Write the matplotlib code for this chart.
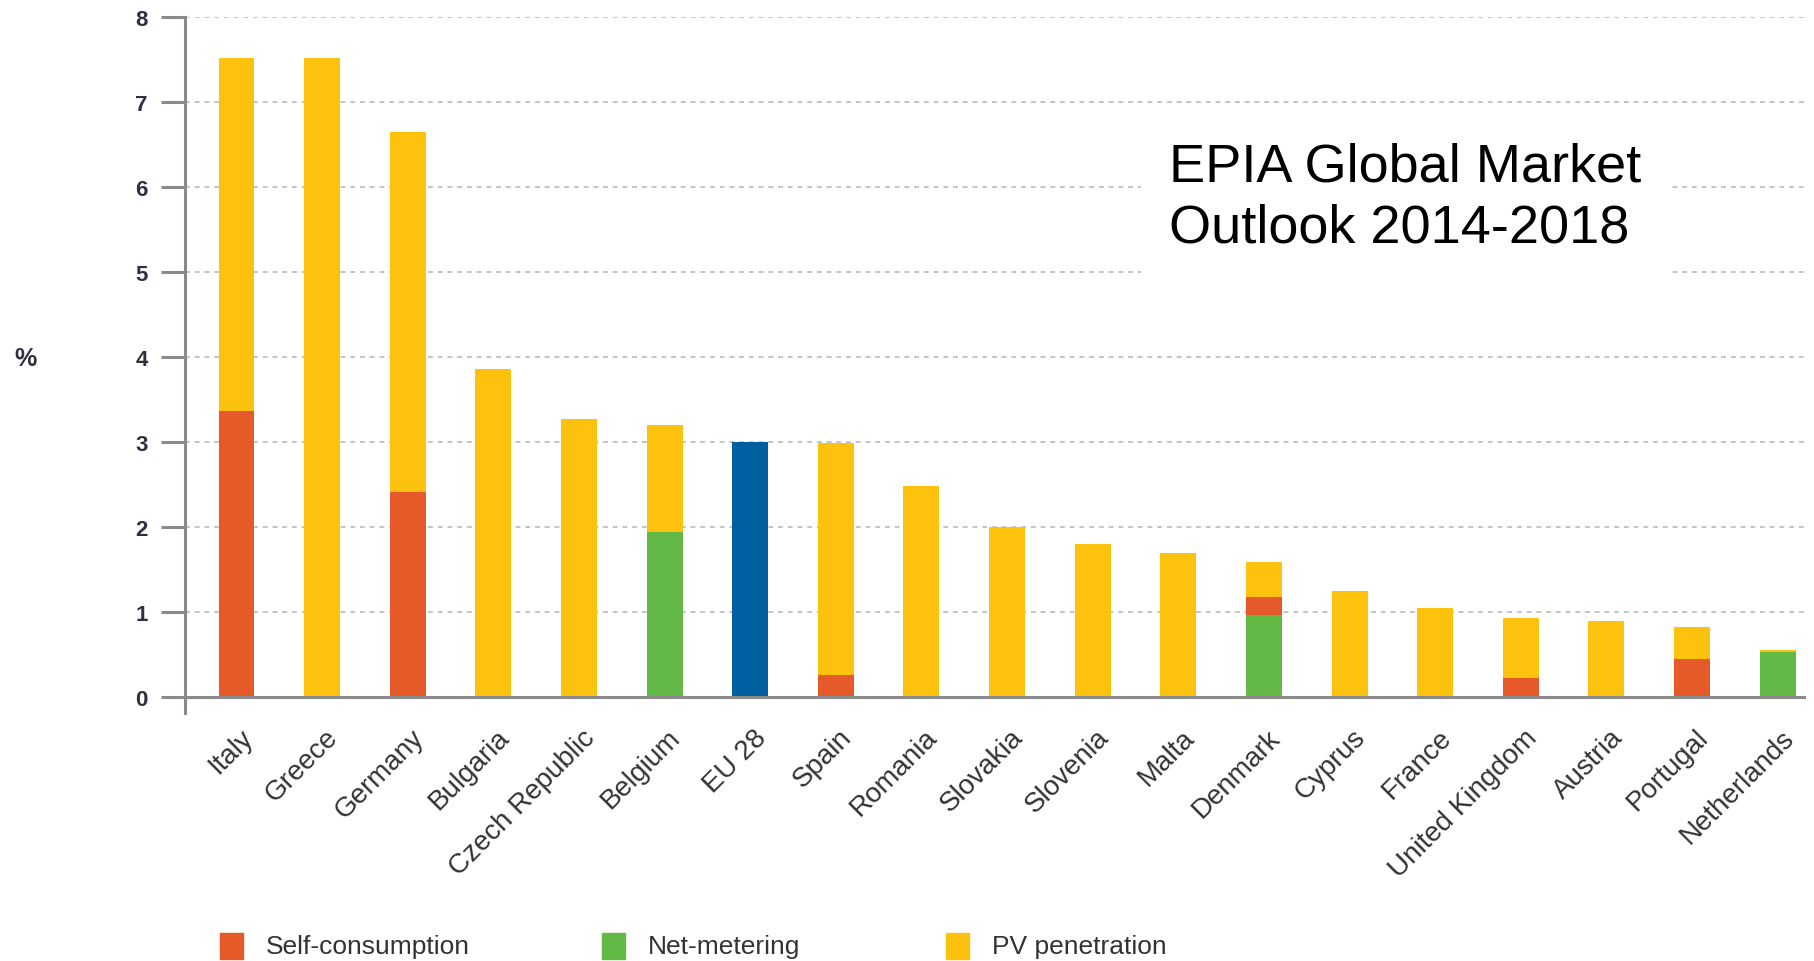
import matplotlib
matplotlib.use('Agg')
import matplotlib.pyplot as plt
import numpy as np
from matplotlib.patches import Rectangle
from matplotlib.transforms import ScaledTranslation

# Данные
countries = ['Italy', 'Greece', 'Germany', 'Bulgaria', 'Czech Republic', 'Belgium',
             'EU 28', 'Spain', 'Romania', 'Slovakia', 'Slovenia', 'Malta', 'Denmark',
             'Cyprus', 'France', 'United Kingdom', 'Austria', 'Portugal', 'Netherlands']
self_consumption = [3.37, 0, 2.42, 0, 0, 0, 0, 0.26, 0, 0, 0, 0, 0.21, 0, 0, 0.23, 0, 0.45, 0]
net_metering = [0, 0, 0, 0, 0, 1.95, 0, 0, 0, 0, 0, 0, 0.97, 0, 0, 0, 0, 0, 0.53]
pv_total = [7.52, 7.52, 6.65, 3.86, 3.28, 3.21, 0, 2.99, 2.49, 2.0, 1.81, 1.70, 1.59,
            1.25, 1.05, 0.94, 0.90, 0.83, 0.56]
eu_value = [0, 0, 0, 0, 0, 0, 3.0, 0, 0, 0, 0, 0, 0, 0, 0, 0, 0, 0, 0]

RED = '#E55A28'
GREEN = '#62B946'
YELLOW = '#FDC20E'
BLUE = '#00609F'
GREY = '#8a8a8a'
TXT = '#333333'

plt.rcParams['font.family'] = ['Liberation Sans', 'DejaVu Sans']

fig = plt.figure(figsize=(18.15, 9.62), dpi=100)
ax = fig.add_axes([0.102, 0.258, 0.893, 0.723])

x = np.arange(len(countries))
sc = np.array(self_consumption)
nm = np.array(net_metering)
tot = np.array(pv_total)
base = nm + sc
w = 0.42

ax.bar(x, nm, w, color=GREEN, zorder=3)
ax.bar(x, sc, w, bottom=nm, color=RED, zorder=3)
ax.bar(x, tot - base, w, bottom=base, color=YELLOW, zorder=3)
ax.bar(x, eu_value, w, color=BLUE, zorder=3)

ax.set_xlim(-0.6, 18.33)
ax.set_ylim(-0.18, 8)
ax.set_yticks(range(9))
ax.yaxis.grid(True, color='#c4c4c4', linestyle=(0, (2.5, 2.5)), linewidth=1.4, zorder=0)

for s in ['top', 'right', 'bottom']:
    ax.spines[s].set_visible(False)
ax.spines['left'].set_color(GREY)
ax.spines['left'].set_linewidth(2.2)
ax.spines['left'].set_bounds(-0.18, 8)
ax.axhline(0, color=GREY, linewidth=2.2, zorder=4)

ax.tick_params(axis='y', length=17, width=2.2, color=GREY, pad=10,
               labelsize=16, labelcolor='#2e3040')
for lab in ax.get_yticklabels():
    lab.set_fontweight('bold')
ax.set_xticks(x)
ax.set_xticklabels(countries, rotation=45, ha='right', va='top', rotation_mode='anchor',
                   fontsize=20, color=TXT)
ax.tick_params(axis='x', length=0, pad=8)
for lab in ax.get_xticklabels():
    lab.set_transform(lab.get_transform() + ScaledTranslation(0.03, 0, fig.dpi_scale_trans))

fig.text(14 / 1815, 1 - 359 / 962, '%', fontsize=18, fontweight='bold', color='#2e3040',
         ha='left', va='center')

# Подпись
ax.text(1169 / 1815, 1 - 198 / 962, 'EPIA Global Market\nOutlook 2014-2018',
        transform=fig.transFigure, fontsize=39, color='black', linespacing=1.27,
        ha='left', va='center', zorder=5,
        bbox=dict(facecolor='white', edgecolor='none', pad=20))

# Легенда
legend_items = [('Self-consumption', RED, 220), ('Net-metering', GREEN, 602),
                ('PV penetration', YELLOW, 946)]
for name, col, px in legend_items:
    fig.add_artist(Rectangle((px / 1815, 1 - 960 / 962), 23 / 1815, 26 / 962,
                             transform=fig.transFigure, color=col))
    fig.text((px + 46) / 1815, 1 - 947 / 962, name, fontsize=19, color=TXT,
             ha='left', va='center')

fig.savefig('out.png', dpi=100)
